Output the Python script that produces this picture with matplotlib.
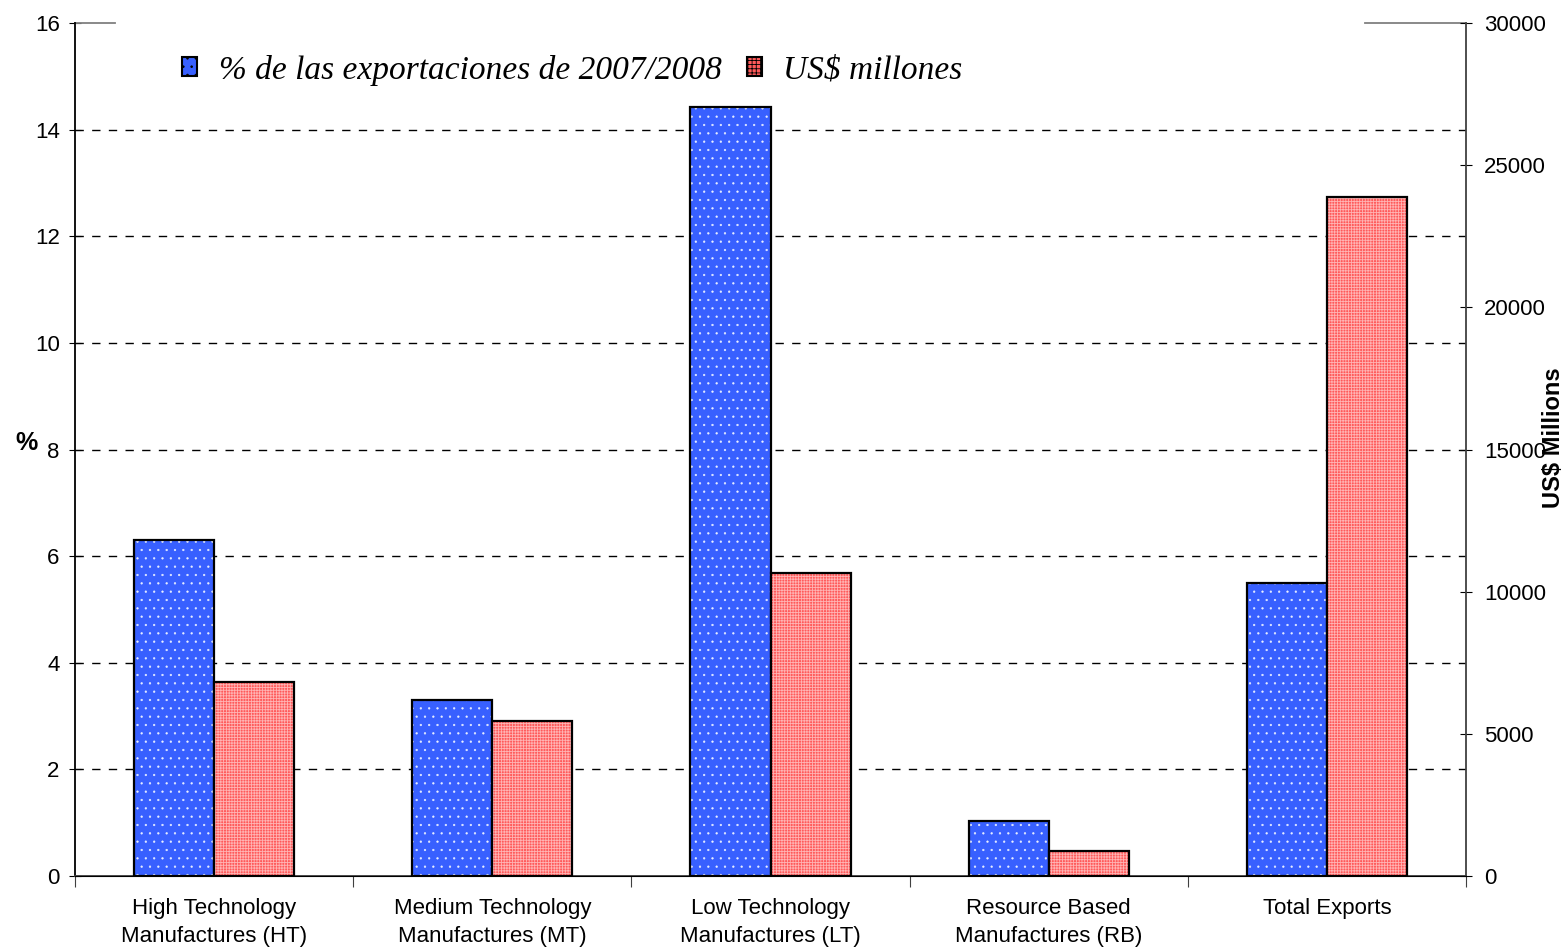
import matplotlib
matplotlib.use("Agg")
import matplotlib.pyplot as plt
from matplotlib.patches import Rectangle
import numpy as np

categories = ["High Technology\nManufactures (HT)", "Medium Technology\nManufactures (MT)",
              "Low Technology\nManufactures (LT)", "Resource Based\nManufactures (RB)",
              "Total Exports"]
pct_values = [6.30, 3.30, 14.43, 1.03, 5.50]
usd_values = [6830, 5450, 10660, 880, 23880]
series_names = ["% de las exportaciones de 2007/2008", "US$ millones"]
left_ticks = [0, 2, 4, 6, 8, 10, 12, 14, 16]
right_ticks = [0, 5000, 10000, 15000, 20000, 25000, 30000]

plt.rcParams['font.family'] = ['Liberation Sans', 'DejaVu Sans']

fig = plt.figure(figsize=(15.68, 9.51), dpi=100)
ax = fig.add_axes([75/1568, 1-876/951, (1466-75)/1568, (876-23)/951])
ax2 = ax.twinx()

x = np.arange(len(categories))
w = 0.288
blue = '#3860FF'
red = '#FF5A5A'

ax.set_xlim(-0.5, len(categories)-0.5)
ax.set_ylim(0, 16)
ax2.set_ylim(0, 30000)

for yv in left_ticks[1:-1]:
    ax.axhline(yv, color='black', lw=1.0, ls=(0, (6, 6)), zorder=0)

# blue bars with white dots
plt.rcParams['hatch.linewidth'] = 0.4
ax.bar(x - w/2, pct_values, w, color=blue, edgecolor='#E8EEFF', hatch='..', lw=0, zorder=2)
b1 = ax.bar(x - w/2, pct_values, w, facecolor='none', edgecolor='black', lw=1.6, zorder=3)
# red bars with fine checker pattern
plt.rcParams['hatch.linewidth'] = 0.6
ax2.bar(x + w/2, usd_values, w, color=red, edgecolor='#FFB4B4', hatch='++++++', lw=0, zorder=2)
b2 = ax2.bar(x + w/2, usd_values, w, facecolor='none', edgecolor='black', lw=1.6, zorder=3)

# spines
ax.spines['top'].set_visible(False)
ax2.spines['top'].set_visible(False)
ax.spines['right'].set_visible(False)
ax2.spines['left'].set_visible(False)
ax2.spines['right'].set_color('#404040')
ax2.spines['right'].set_linewidth(1.3)
ax.spines['left'].set_linewidth(1.3)
ax.spines['bottom'].set_linewidth(1.3)
ax.spines['bottom'].set_color('#404040')
# short visible pieces of top border (rest hidden behind legend area)
ax.plot([0, 40/1391], [1, 1], transform=ax.transAxes, color='#808080', lw=1.3, clip_on=False)
ax.plot([(1365-75)/1391, 1], [1, 1], transform=ax.transAxes, color='#808080', lw=1.3, clip_on=False)

ax.set_yticks(left_ticks)
ax2.set_yticks(right_ticks)
ax.set_xticks(np.arange(len(categories)+1) - 0.5, minor=False)
ax.set_xticklabels([])
ax.set_xticks(x, minor=True)
ax.set_xticklabels(categories, minor=True, fontsize=16, linespacing=1.45)
ax.tick_params(axis='x', which='major', length=8, direction='out', color='#404040')
ax.tick_params(axis='x', which='minor', length=0, pad=16)
ax.tick_params(axis='y', labelsize=16, length=8, direction='inout', pad=7)
ax2.tick_params(axis='y', labelsize=16, length=8, direction='inout', pad=9)

fig.text(26/1568, 1-443/951, '%', fontsize=18, fontweight='bold', ha='center', va='center')
fig.text(1554/1568, 1-438/951, 'US$ Millions', fontsize=17, fontweight='bold',
         ha='center', va='center', rotation=90)

h1 = Rectangle((0, 0), 1, 1, facecolor=blue, edgecolor='black', hatch='..', lw=1.5)
h2 = Rectangle((0, 0), 1, 1, facecolor=red, edgecolor='black', hatch='++++', lw=1.5)
leg = ax2.legend([h1, h2], series_names, loc='center left',
                 bbox_to_anchor=(182/1568, 1-70/951), bbox_transform=fig.transFigure,
                 ncol=2, frameon=False,
                 prop={'family': ['Liberation Serif'], 'style': 'italic', 'size': 24},
                 handlelength=0.45, handleheight=0.5, handletextpad=0.65, columnspacing=0.75,
                 borderpad=0, borderaxespad=0)
leg.set_zorder(10)

fig.savefig('out.png', dpi=100)
